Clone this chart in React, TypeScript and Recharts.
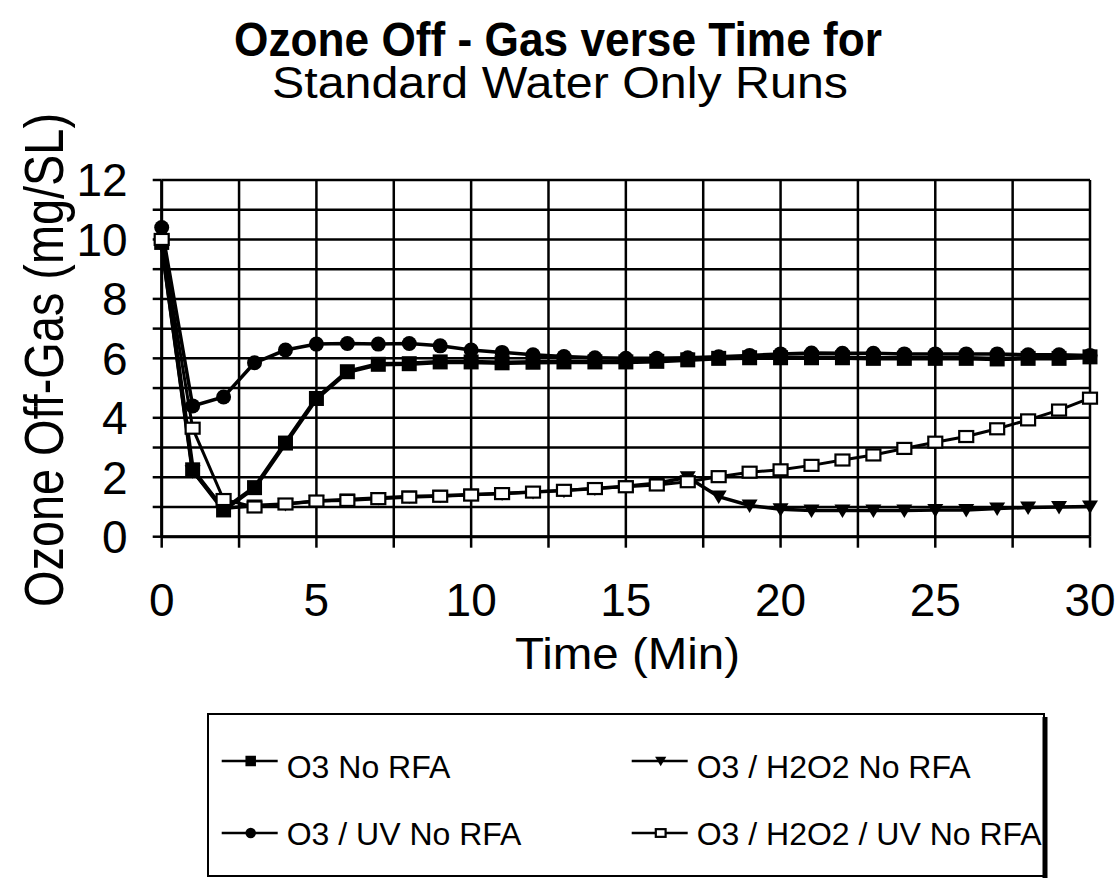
import React from 'react';
import { LineChart, Line, XAxis, YAxis, CartesianGrid, Legend } from 'recharts';

const FONT = '"Liberation Sans", Arial, Helvetica, sans-serif';

const times = [0, 1, 2, 3, 4, 5, 6, 7, 8, 9, 10, 11, 12, 13, 14, 15, 16, 17, 18, 19, 20, 21, 22, 23, 24, 25, 26, 27, 28, 29, 30];

const o3NoRfa = [9.9, 2.25, 0.9, 1.65, 3.15, 4.65, 5.55, 5.8, 5.82, 5.88, 5.88, 5.85, 5.87, 5.88, 5.88, 5.88, 5.9, 5.95, 6.0, 6.02, 6.02, 6.02, 6.02, 6.0, 6.0, 6.0, 6.0, 5.98, 6.0, 6.0, 6.05];
const o3H2o2NoRfa = [9.8, 2.2, 0.95, 1.05, 1.1, 1.2, 1.25, 1.3, 1.35, 1.38, 1.42, 1.45, 1.5, 1.55, 1.62, 1.7, 1.8, 2.0, 1.35, 1.05, 0.92, 0.88, 0.88, 0.88, 0.88, 0.9, 0.9, 0.95, 0.98, 1.0, 1.02];
const o3UvNoRfa = [10.4, 4.4, 4.7, 5.85, 6.28, 6.48, 6.5, 6.48, 6.5, 6.42, 6.28, 6.2, 6.12, 6.06, 6.02, 6.0, 6.0, 6.02, 6.05, 6.1, 6.15, 6.18, 6.17, 6.17, 6.15, 6.15, 6.15, 6.15, 6.12, 6.12, 6.1];
const o3H2o2UvNoRfa = [10.0, 3.65, 1.25, 1.0, 1.1, 1.2, 1.22, 1.28, 1.33, 1.36, 1.4, 1.45, 1.5, 1.56, 1.62, 1.68, 1.74, 1.85, 2.02, 2.17, 2.25, 2.4, 2.58, 2.75, 2.97, 3.18, 3.37, 3.63, 3.93, 4.26, 4.66];

const xTicks = [0, 2.5, 5, 7.5, 10, 12.5, 15, 17.5, 20, 22.5, 25, 27.5, 30];
const yTicks = [0, 1, 2, 3, 4, 5, 6, 7, 8, 9, 10, 11, 12];
const xLabelEvery = 5;
const yLabelEvery = 2;

const seriesNames = ['O3 No RFA', 'O3 / H2O2 No RFA', 'O3 / UV No RFA', 'O3 / H2O2 / UV No RFA'];
const seriesKeys = ['s1', 's2', 's3', 's4'];
const seriesShapes = ['square', 'triangle', 'circle', 'open'];
const seriesWidths = [4.5, 3.5, 3.5, 3];

const data = times.map((t, i) => ({
  t,
  s1: o3NoRfa[i],
  s2: o3H2o2NoRfa[i],
  s3: o3UvNoRfa[i],
  s4: o3H2o2UvNoRfa[i],
}));

function Marker({ shape, cx, cy, s = 1 }: { shape: string; cx: number; cy: number; s?: number }) {
  switch (shape) {
    case 'square':
      return <rect x={cx - 7.5 * s} y={cy - 7.5 * s} width={15 * s} height={15 * s} fill="#000" />;
    case 'circle':
      return <circle cx={cx} cy={cy} r={7.5 * s} fill="#000" />;
    case 'triangle':
      return (
        <path
          d={`M${cx - 8 * s},${cy - 6 * s} L${cx + 8 * s},${cy - 6 * s} L${cx},${cy + 7.5 * s} Z`}
          fill="#000"
        />
      );
    default:
      return (
        <rect
          x={cx - 7 * s}
          y={cy - 5.5 * s}
          width={14 * s}
          height={11 * s}
          fill="#fff"
          stroke="#000"
          strokeWidth={2.2}
        />
      );
  }
}

const makeDot = (shape: string) => (props: any) => {
  const { cx, cy, index } = props;
  if (cx == null || cy == null) return <g key={`${shape}-${index}`} />;
  return (
    <g key={`${shape}-${index}`}>
      <Marker shape={shape} cx={cx} cy={cy} />
    </g>
  );
};

const XTick = (props: any) => {
  const { x, y, payload } = props;
  const v = payload.value;
  if (v % xLabelEvery !== 0) return <g />;
  return (
    <text x={x} y={y} dy="0.71em" textAnchor="middle" fontFamily={FONT} fontSize={46} fill="#000">
      {v}
    </text>
  );
};

const YTick = (props: any) => {
  const { x, y, payload } = props;
  const v = payload.value;
  if (v % yLabelEvery !== 0) return <g />;
  return (
    <text x={x} y={y} dy="0.355em" textAnchor="end" fontFamily={FONT} fontSize={46} fill="#000">
      {v}
    </text>
  );
};

const YLabel = () => (
  <text
    transform="translate(63, 360) rotate(-90)"
    x={-247}
    y={0}
    fontFamily={FONT}
    fontSize={55}
    fill="#000"
    textLength={494}
    lengthAdjust="spacingAndGlyphs"
  >
    Ozone Off-Gas (mg/SL)
  </text>
);

const XLabel = () => (
  <text
    x={515}
    y={669}
    fontFamily={FONT}
    fontSize={44}
    fill="#000"
    textLength={225}
    lengthAdjust="spacingAndGlyphs"
  >
    Time (Min)
  </text>
);

const renderLegend = (props: any) => {
  const payload = [...(props.payload || [])].sort(
    (a: any, b: any) => seriesNames.indexOf(a.value) - seriesNames.indexOf(b.value)
  );
  return (
    <svg width={842} height={166} style={{ display: 'block', overflow: 'visible' }}>
      <rect x={1} y={1} width={836} height={162} fill="#fff" stroke="#000" strokeWidth={2} />
      <line x1={838} y1={4} x2={838} y2={165} stroke="#000" strokeWidth={5} />
      {payload.map((entry: any, i: number) => {
        const idx = seriesNames.indexOf(entry.value);
        const col = idx % 2;
        const row = Math.floor(idx / 2);
        const lx = col ? 424.7 : 14.7;
        const ly = row ? 120 : 48;
        const tb = row ? 132 : 65;
        const shape = seriesShapes[idx];
        return (
          <g key={`leg-${i}`}>
            <line x1={lx} y1={ly} x2={lx + 56} y2={ly} stroke="#000" strokeWidth={2.5} />
            <Marker shape={shape} cx={lx + 29} cy={ly} s={0.7} />
            <text x={lx + 65} y={tb} fontFamily={FONT} fontSize={32} fill="#000">
              {entry.value}
            </text>
          </g>
        );
      })}
    </svg>
  );
};

export default function App() {
  return (
    <div style={{ position: 'absolute', left: 0, top: 0, width: 1119, height: 881, background: '#fff' }}>
      <LineChart
        width={1119}
        height={881}
        data={data}
        margin={{ top: 180, right: 29, bottom: 244.3, left: 61.7 }}
      >
        <CartesianGrid stroke="#000" strokeWidth={2.5} />
        <XAxis
          dataKey="t"
          type="number"
          domain={[0, 30]}
          ticks={xTicks}
          interval={0}
          height={100}
          tickSize={11}
          tickMargin={36}
          axisLine={{ stroke: '#000', strokeWidth: 3 }}
          tickLine={{ stroke: '#000', strokeWidth: 2.5 }}
          tick={<XTick />}
          label={<XLabel />}
        />
        <YAxis
          type="number"
          domain={[0, 12]}
          ticks={yTicks}
          interval={0}
          width={100}
          tickSize={9}
          tickMargin={25}
          axisLine={{ stroke: '#000', strokeWidth: 3 }}
          tickLine={{ stroke: '#000', strokeWidth: 2.5 }}
          tick={<YTick />}
          label={<YLabel />}
        />
        {seriesKeys.map((k, i) => (
          <Line
            key={k}
            type="linear"
            dataKey={k}
            name={seriesNames[i]}
            stroke="#000"
            strokeWidth={seriesWidths[i]}
            dot={makeDot(seriesShapes[i])}
            activeDot={false}
            isAnimationActive={false}
            legendType="line"
          />
        ))}
        <Legend
          layout="horizontal"
          verticalAlign="middle"
          align="center"
          content={renderLegend}
          wrapperStyle={{ left: 207, top: 713, width: 842, height: 166 }}
        />
      </LineChart>
      <svg
        width={1119}
        height={120}
        style={{ position: 'absolute', left: 0, top: 0, pointerEvents: 'none' }}
      >
        <text
          x={234}
          y={56}
          fontFamily={FONT}
          fontWeight="bold"
          fontSize={49}
          fill="#000"
          textLength={648}
          lengthAdjust="spacingAndGlyphs"
        >
          Ozone Off - Gas verse Time for
        </text>
        <text
          x={272}
          y={98}
          fontFamily={FONT}
          fontSize={45}
          fill="#000"
          textLength={576}
          lengthAdjust="spacingAndGlyphs"
        >
          Standard Water Only Runs
        </text>
      </svg>
    </div>
  );
}
